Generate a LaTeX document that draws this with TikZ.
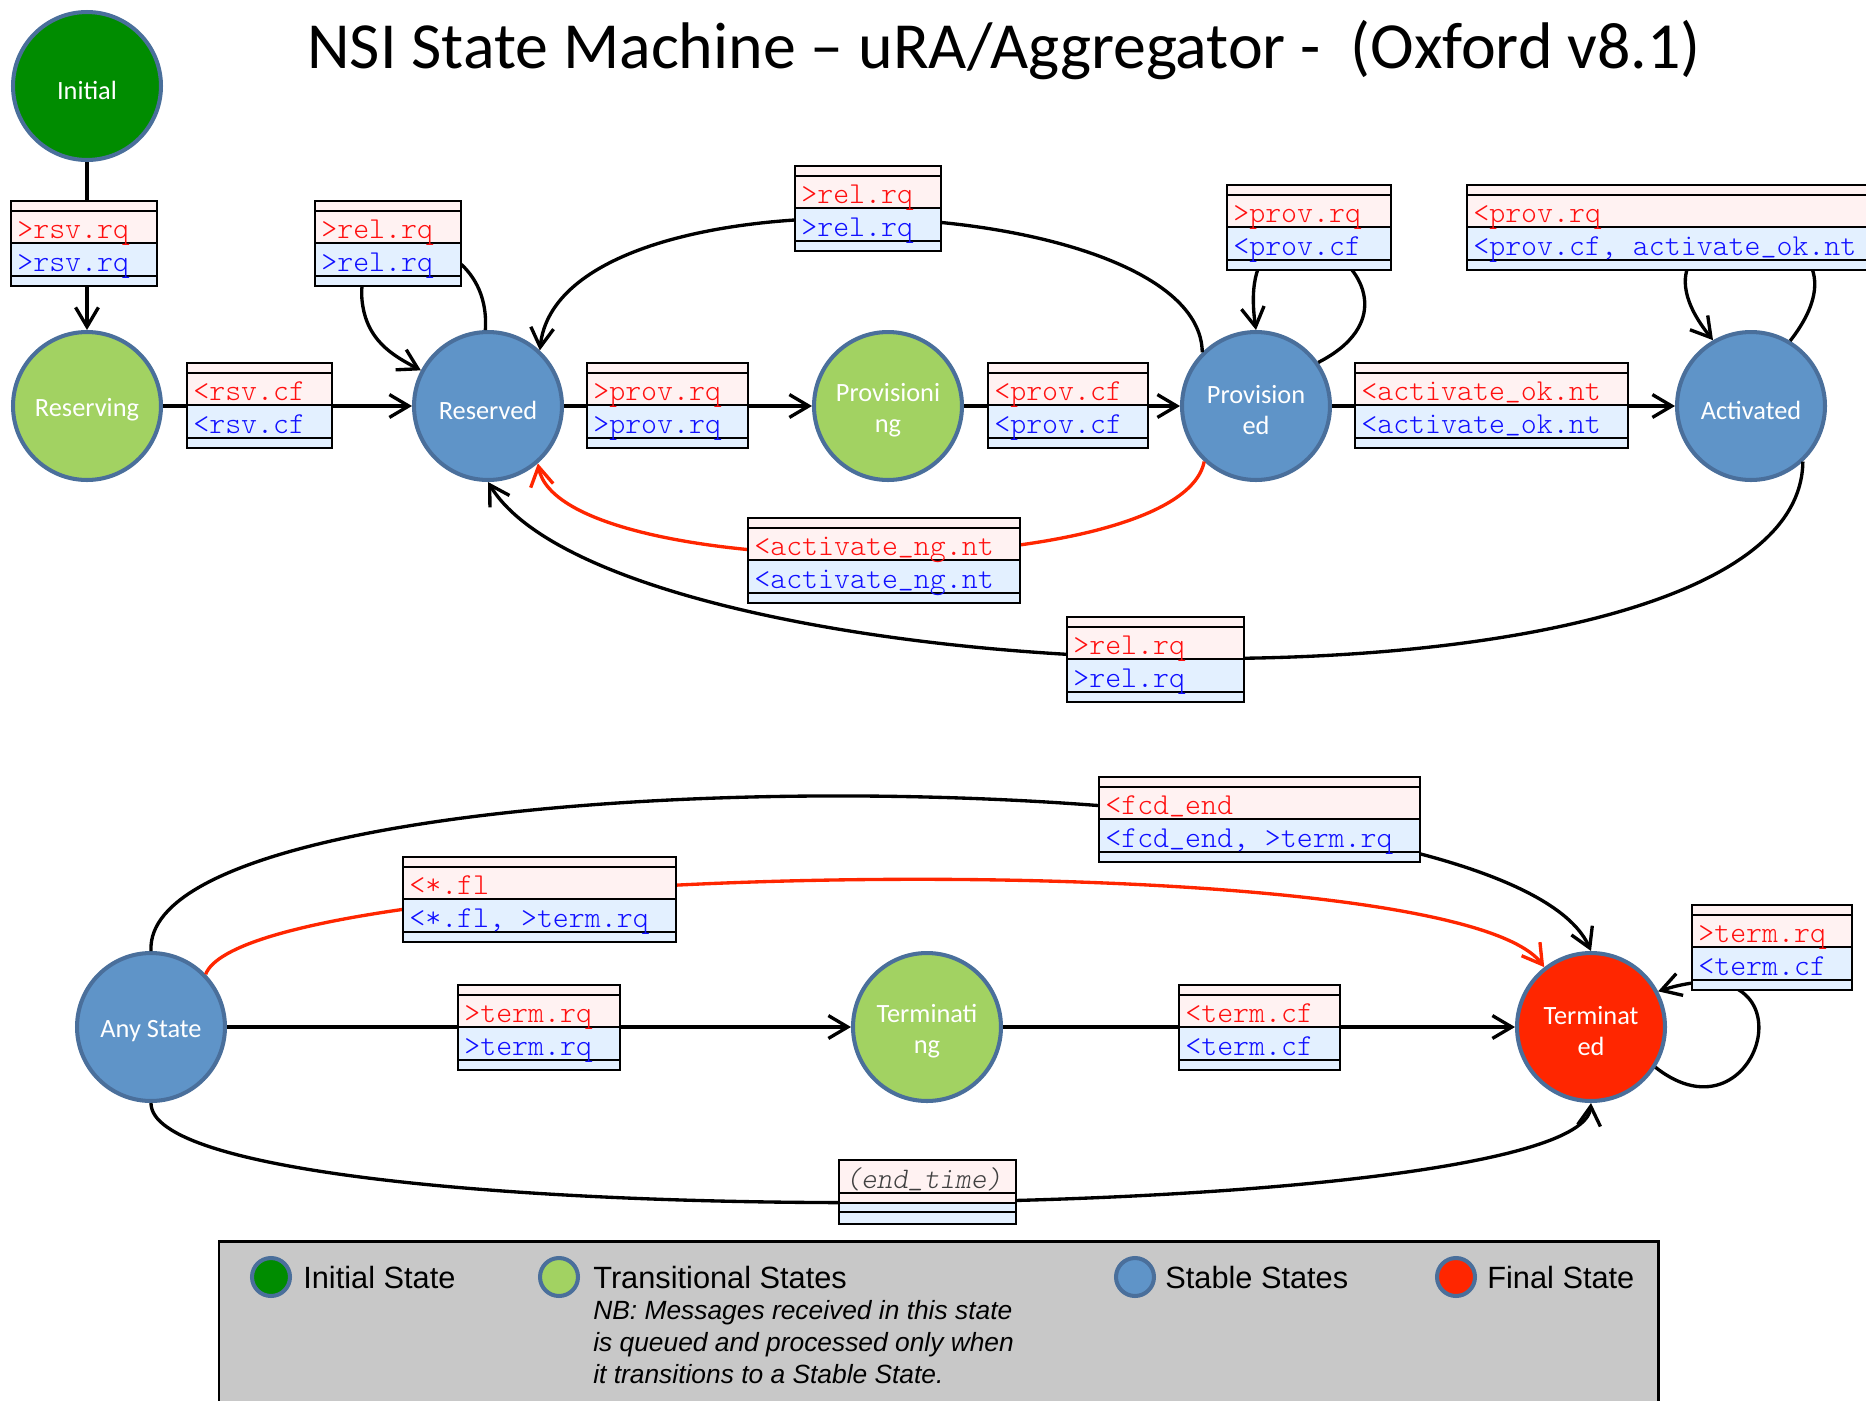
\documentclass[tikz,border=0pt]{standalone}
\usepackage{fontspec}
\setmainfont{Carlito}
\newfontfamily\msgfont{lmmonolt10-regular.otf}[ItalicFont=lmmonolt10-oblique.otf]
\newfontfamily\legfont{Liberation Sans}
\usetikzlibrary{arrows.meta}

\definecolor{stborder}{HTML}{4A6F9B}
\definecolor{initfill}{HTML}{008C00}
\definecolor{transfill}{HTML}{A2D262}
\definecolor{stablefill}{HTML}{5F94C8}
\definecolor{finalfill}{HTML}{FF2600}
\definecolor{pinkrow}{HTML}{FFF2F2}
\definecolor{bluerow}{HTML}{E3F0FF}
\definecolor{redtxt}{HTML}{FF1010}
\definecolor{bluetxt}{HTML}{1010FF}
\definecolor{legendgray}{HTML}{C8C8C8}

\newcommand{\usc}{\raisebox{1.5pt}{\_}}

% name, top left, width, red line, blue line
\newcommand{\msgbox}[5]{%
    \begin{scope}[shift={(#2)}]
        \fill[pinkrow] (0,0) rectangle (#3,42);
        \fill[bluerow] (0,42) rectangle (#3,85);
        \draw[boxline] (0,0) rectangle (#3,85) (0,10) -- (#3,10) (0,42) -- (#3,42) (0,75) -- (#3,75);
        \node[msgtxt, text=redtxt] (#1-r) at (6,37) {#4};
        \node[msgtxt, text=bluetxt] (#1-b) at (6,70) {#5};
    \end{scope}}

\begin{document}
\begin{tikzpicture}[x=0.02cm, y=-0.02cm,
    state/.style={circle, draw=stborder, line width=2.3pt, minimum size=2.96cm, inner sep=0pt,
        label={[text=white, align=center, yshift=-2.3pt, font=\fontsize{15}{18}\selectfont]center:{#1}}},
    trans/.style={line width=1.9pt, -{Straight Barb[length=11pt,width=13pt]}},
    failtrans/.style={trans, draw=finalfill},
    boxline/.style={line width=1.4pt},
    msgtxt/.style={anchor=base west, inner sep=0pt, font=\msgfont\fontsize{17.3}{17.3}\selectfont},
    legdot/.style={circle, draw=stborder, line width=2.3pt, minimum size=0.76cm, inner sep=0pt},
    legtxt/.style={anchor=base west, inner sep=0pt, font=\legfont\fontsize{17.5}{20}\selectfont},
    nbtxt/.style={anchor=base west, inner sep=0pt, font=\legfont\itshape\fontsize{15}{18}\selectfont}]
    \useasboundingbox (0,0) rectangle (1866,1400);
    \clip (0,0) rectangle (1866,1400);

    \node[font=\fontsize{37.5}{40}\selectfont, anchor=base, inner sep=0pt] (title) at (1004,68) {NSI State Machine – uRA/Aggregator -\ \ (Oxford v8.1)};

    \node[state={Initial}, fill=initfill] (initial) at (87,86) {};
    \node[state={Reserving}, fill=transfill] (reserving) at (87,406) {};
    \node[state={Reserved}, fill=stablefill] (reserved) at (488,406) {};
    \node[state={Provisioni\\ng}, fill=transfill] (provisioning) at (888,406) {};
    \node[state={Provision\\ed}, fill=stablefill] (provisioned) at (1256,406) {};
    \node[state={Activated}, fill=stablefill] (activated) at (1751,406) {};
    \node[state={Any State}, fill=stablefill] (anystate) at (151,1027) {};
    \node[state={Terminati\\ng}, fill=transfill] (terminating) at (927,1027) {};
    \node[state={Terminat\\ed}, fill=finalfill] (terminated) at (1591,1027) {};

    \draw[trans] (initial) -- (reserving);
    \draw[trans] (reserving) -- (reserved);
    \draw[trans] (reserved) -- (provisioning);
    \draw[trans] (provisioning) -- (provisioned);
    \draw[trans] (provisioned) -- (activated);
    \draw[trans] (reserved.92) .. controls (492,230) and (354,215) .. (362,300) .. controls (366,340) and (392,355) .. (reserved.152);
    \draw[trans] (provisioned.135) .. controls (1200,190) and (560,160) .. (reserved.47);
    \draw[trans] (provisioned.35) .. controls (1460,290) and (1230,150) .. (provisioned.90);
    \draw[trans] (activated.59) .. controls (1900,200) and (1600,200) .. (activated.120);
    \draw[failtrans] (provisioned.227) .. controls (1180,585) and (560,585) .. (reserved.311);
    \draw[trans] (activated.-47) .. controls (1800,740) and (620,700) .. (reserved.270);

    \draw[trans] (anystate) -- (terminating);
    \draw[trans] (terminating) -- (terminated);
    \draw[trans] (anystate.90) .. controls (140,745) and (1500,745) .. (terminated.90);
    \draw[failtrans] (anystate.44) .. controls (250,860) and (1450,840) .. (terminated.128);
    \draw[trans] (terminated.-32) .. controls (1760,1150) and (1820,940) .. (terminated.28);
    \draw[trans] (anystate.270) .. controls (150,1240) and (1580,1230) .. (terminated.270);

    \msgbox{rsvrq}{11,201}{146}{>rsv.rq}{>rsv.rq}
    \msgbox{relloop}{315,201}{146}{>rel.rq}{>rel.rq}
    \msgbox{rsvcf}{187,363}{145}{<rsv.cf}{<rsv.cf}
    \msgbox{reltop}{795,166}{146}{>rel.rq}{>rel.rq}
    \msgbox{provrq}{587,363}{161}{>prov.rq}{>prov.rq}
    \msgbox{provcf}{988,363}{160}{<prov.cf}{<prov.cf}
    \msgbox{provloop}{1227,185}{164}{>prov.rq}{<prov.cf}
    \msgbox{actloop}{1467,185}{420}{<prov.rq}{<prov.cf, activate\usc ok.nt}
    \msgbox{actok}{1355,363}{273}{<activate\usc ok.nt}{<activate\usc ok.nt}
    \msgbox{actng}{748,518}{272}{<activate\usc ng.nt}{<activate\usc ng.nt}
    \msgbox{relbot}{1067,617}{177}{>rel.rq}{>rel.rq}
    \msgbox{fcdend}{1099,777}{321}{<fcd\usc end}{<fcd\usc end, >term.rq}
    \msgbox{fail}{403,857}{273}{<*.fl}{<*.fl, >term.rq}
    \msgbox{termrq}{458,985}{162}{>term.rq}{>term.rq}
    \msgbox{termcf}{1179,985}{161}{<term.cf}{<term.cf}
    \msgbox{termloop}{1692,905}{160}{>term.rq}{<term.cf}

    \begin{scope}[shift={(839,1160)}]
        \fill[pinkrow] (0,0) rectangle (177,43);
        \fill[bluerow] (0,43) rectangle (177,64);
        \draw[boxline] (0,0) rectangle (177,64) (0,33) -- (177,33) (0,43) -- (177,43) (0,52) -- (177,52);
        \node[msgtxt, text=black!75, font=\msgfont\itshape\fontsize{17}{17}\selectfont] (endtime) at (6,28) {(end\usc time)};
    \end{scope}

    \draw[fill=legendgray, line width=1.7pt] (219,1241) rectangle (1658,1450);
    \node[legdot, fill=initfill] (leginit) at (271,1277) {};
    \node[legtxt] (leginitt) at (303,1288) {Initial State};
    \node[legdot, fill=transfill] (legtrans) at (559,1277) {};
    \node[legtxt] (legtranst) at (593,1288) {Transitional States};
    \node[nbtxt] (nb1) at (593,1319) {NB: Messages received in this state};
    \node[nbtxt] (nb2) at (593,1351) {is queued and processed only when};
    \node[nbtxt] (nb3) at (593,1383) {it transitions to a Stable State.};
    \node[legdot, fill=stablefill] (legstable) at (1135,1277) {};
    \node[legtxt] (legstablet) at (1165,1288) {Stable States};
    \node[legdot, fill=finalfill] (legfinal) at (1456,1277) {};
    \node[legtxt] (legfinalt) at (1487,1288) {Final State};
\end{tikzpicture}
\end{document}
